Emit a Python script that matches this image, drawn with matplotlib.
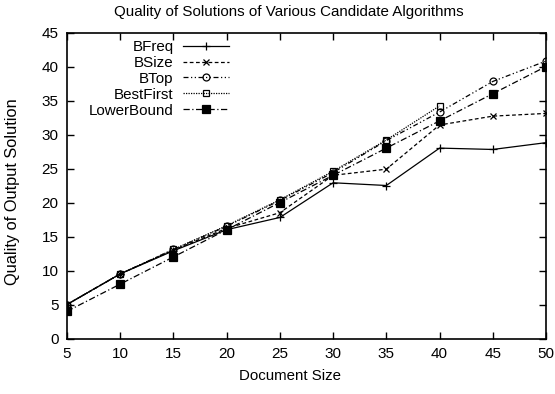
import matplotlib
matplotlib.use("Agg")
import matplotlib.pyplot as plt

plt.rcParams['font.family'] = ['Liberation Sans', 'DejaVu Sans']

doc_size = [5, 10, 15, 20, 25, 30, 35, 40, 45, 50]
bfreq = [5.0, 9.5, 12.9, 16.0, 17.8, 22.9, 22.5, 28.0, 27.8, 28.8]
bsize = [5.0, 9.5, 13.0, 16.2, 18.5, 24.0, 24.9, 31.4, 32.7, 33.1]
btop = [5.0, 9.5, 13.1, 16.5, 20.3, 24.4, 29.1, 33.3, 37.8, 40.8]
bestfirst_size = [5, 10, 15, 20, 25, 30, 35, 40]
bestfirst = [5.0, 9.5, 13.1, 16.6, 20.4, 24.6, 29.2, 34.2]
lowerbound = [4.0, 8.0, 12.0, 16.0, 20.0, 24.0, 28.0, 32.0, 36.0, 40.0]

x_ticks = [5, 10, 15, 20, 25, 30, 35, 40, 45, 50]
y_ticks = [0, 5, 10, 15, 20, 25, 30, 35, 40, 45]

W, H = 555, 394
fig = plt.figure(figsize=(W / 100, H / 100), dpi=100)
ax_l, ax_r, ax_t, ax_b = 67, 546, 32.5, 338.5
ax = fig.add_axes([ax_l / W, 1 - ax_b / H, (ax_r - ax_l) / W, (ax_b - ax_t) / H])

lw = 0.9
ax.plot(doc_size, bfreq, color='black', lw=lw, linestyle='-', marker='+',
        markersize=6, markeredgewidth=0.9, label='BFreq')
ax.plot(doc_size, bsize, color='black', lw=lw, linestyle=(0, (3, 2)), marker='x',
        markersize=5, markeredgewidth=0.9, label='BSize')
ax.plot(doc_size, btop, color='black', lw=lw, linestyle=(0, (4, 2, 1, 2, 1, 2)), marker='o',
        markersize=5, markerfacecolor='none', markeredgewidth=0.9, label='BTop')
ax.plot(bestfirst_size, bestfirst, color='black', lw=lw, linestyle=(0, (1, 1)), marker='s',
        markersize=5, markerfacecolor='none', markeredgewidth=0.9, label='BestFirst')
ax.plot(doc_size, lowerbound, color='black', lw=lw, linestyle=(0, (5, 2, 1, 2)), marker='s',
        markersize=6, markerfacecolor='black', markeredgewidth=0.9, label='LowerBound')

ax.set_xlim(5, 50)
ax.set_ylim(0, 45)
ax.set_xticks(x_ticks)
ax.set_yticks(y_ticks)
ax.tick_params(direction='in', length=5, width=1, top=True, right=True,
               labelsize=11, pad=6)
for sp in ax.spines.values():
    sp.set_linewidth(1.2)

# Title and axis labels centred on the canvas rather than on the plot frame
fig.text(289 / W, 1 - 12 / H, 'Quality of Solutions of Various Candidate Algorithms',
         fontsize=10.9, ha='center', va='center')
ax.set_xlabel('Document Size', fontsize=10.8)
ax.xaxis.set_label_coords((290 - ax_l) / (ax_r - ax_l), -(376 - ax_b) / (ax_b - ax_t))
ax.xaxis.label.set_va('center')
ax.set_ylabel('Quality of Output Solution', fontsize=11.8)
ax.yaxis.set_label_coords(-(ax_l - 12.5) / (ax_r - ax_l), (ax_b - 192) / (ax_b - ax_t))
ax.yaxis.label.set_va('center')

ax.legend(loc='upper right', bbox_to_anchor=(0.338, 0.976), frameon=False, markerfirst=False,
          fontsize=10.9, handlelength=3.0, handletextpad=0.65, labelspacing=0.13,
          borderaxespad=0.0, borderpad=0.0)

fig.savefig('out.png', dpi=100)
